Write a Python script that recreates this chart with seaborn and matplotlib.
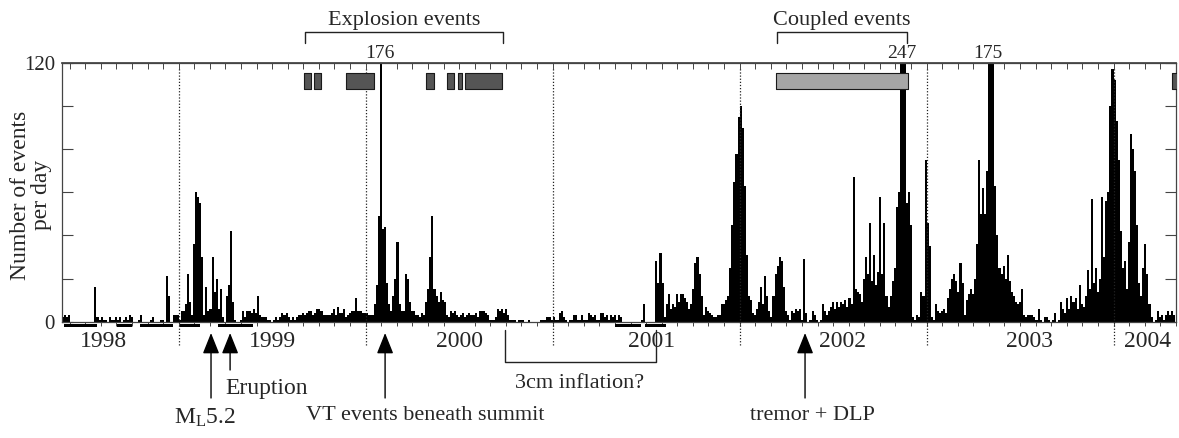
import matplotlib
matplotlib.use("Agg")
import matplotlib.pyplot as plt
import matplotlib.transforms as mtransforms
from matplotlib.ticker import FixedLocator
import pandas as pd
import seaborn as sns

# ---------------- data (events per day, ~4-day bins, 91 bins per year) ----------------
counts_1998 = [2, 3, 2, 3, 0, 0, 0, 0, 0, 0, 0, 0, 0, 0, 0, 0, 16, 2, 1, 2, 1,
               1, 0, 2, 1, 1, 2, 1, 2, 0, 1, 2, 1, 3, 2, 0, 0, 1, 3, 0,
               0, 0, 0, 1, 2, 0, 0, 0, 1, 1, 0, 21, 12, 0, 3, 3, 3]
counts_1999 = [1, 5, 5, 8, 22, 9, 3, 36, 60, 58, 55, 30, 3, 16, 5, 6, 30, 14, 20, 6,
               15, 2, 0, 12, 17, 42, 9, 1, 0, 0, 1, 5, 2, 5,
               5, 4, 6, 4, 12, 3, 2, 2, 2, 1, 1, 0, 1, 2, 1, 2, 4, 3, 4, 2,
               1, 2, 1, 2, 3, 3, 4, 3, 4, 5, 5, 3, 4, 6, 6, 5, 3, 3, 3, 3,
               4, 6, 3, 7, 4, 4, 6, 2, 3, 4, 5, 5, 11, 5, 5, 4, 4]
counts_2000 = [4, 3, 3, 3, 8, 17, 49, 176, 43, 44, 18, 8, 5, 12, 20, 37, 8, 5, 5, 22,
               20, 9, 5, 5, 3, 3, 2, 4, 3, 9, 15, 30, 49, 15,
               12, 9, 14, 10, 9, 3, 2, 5, 4, 5, 3, 2, 3, 4, 2, 3, 4, 3, 3, 4,
               2, 5, 5, 5, 4, 3, 1, 1, 1, 2, 6, 5, 6, 4, 6, 3, 1, 1, 1, 0,
               1, 1, 1, 0, 0, 1, 0, 0, 0, 0, 0, 1, 1, 1, 2, 2, 1]
counts_2001 = [2, 1, 1, 4, 5, 2, 1, 0, 1, 1, 3, 3, 1, 1, 3, 1, 1, 4, 3, 2,
               3, 1, 1, 4, 4, 2, 3, 1, 3, 2, 3, 1, 3, 2,
               0, 0, 0, 0, 0, 0, 0, 0, 0, 1, 8, 0, 0, 0, 0, 0, 28, 18, 32, 18,
               2, 8, 13, 6, 8, 7, 13, 9, 13, 13, 11, 9, 6, 8, 15, 27, 30, 22, 12, 3,
               7, 5, 4, 3, 2, 2, 3, 3, 8, 8, 10, 12, 25, 45, 65, 78, 95]
counts_2002 = [100, 90, 63, 31, 12, 10, 4, 3, 6, 9, 16, 8, 21, 12, 5, 2, 12, 22, 26, 30,
               28, 16, 5, 3, 1, 5, 4, 6, 5, 6, 1, 29, 4,
               0, 1, 5, 3, 1, 0, 1, 8, 5, 3, 5, 7, 9, 6, 9, 7, 9, 8, 10, 7,
               11, 8, 67, 15, 14, 13, 9, 20, 30, 22, 46, 19, 31, 17, 23, 58, 22, 46, 12, 7,
               12, 19, 25, 53, 60, 140, 247, 150, 55, 60, 45, 2, 1, 3, 2, 14, 12, 75]
counts_2003 = [46, 35, 2, 1, 8, 5, 4, 5, 6, 4, 11, 15, 20, 22, 19, 14, 27, 18, 3, 10,
               13, 15, 13, 20, 36, 75, 50, 62, 50, 70, 175, 140, 125,
               63, 40, 25, 22, 26, 20, 31, 19, 14, 12, 9, 8, 9, 15, 3, 2, 3, 3,
               3, 2, 1, 6, 1, 0, 2, 2, 1, 0, 1, 4, 0, 1, 9, 6, 4, 11, 6, 12,
               9, 11, 6, 17, 8, 7, 12, 24, 15, 57, 18, 25, 14, 20, 58, 30, 56, 60, 100, 117]
counts_2004 = [112, 93, 75, 42, 25, 28, 15, 37, 87, 80, 70, 45, 18, 12, 25, 36, 22, 8, 2, 0,
               1, 5, 2, 3, 1, 3, 5, 3, 5, 3]

labelled_peaks = [176, 247, 175]

year_labels = ["1998", "1999", "2000", "2001", "2002", "2003", "2004"]
year_label_pos = [1998.60, 1999.5, 2000.5, 2001.53, 2002.55, 2003.55, 2004.18]
year_bounds = [1999, 2000, 2001, 2002, 2003, 2004]

explosion_start = [1999.672, 1999.726, 1999.895, 2000.323, 2000.434, 2000.493, 2000.532]
explosion_end = [1999.708, 1999.761, 2000.045, 2000.367, 2000.474, 2000.516, 2000.728]
coupled_start = [2002.195]
coupled_end = [2002.902]
late_start = [2004.31]
late_end = [2004.40]

gap_start = [1998.387, 1998.671, 1998.794, 1999.007, 1999.211, 2001.334, 2001.494]
gap_end = [1998.564, 1998.751, 1998.970, 1999.114, 1999.398, 2001.473, 2001.606]

explosion_bracket = (1999.676, 2000.734)
coupled_bracket = (2002.200, 2002.895)
inflation_bracket = (2000.745, 2001.553)

ml_date, eruption_date, vt_date, tremor_date = 1999.173, 1999.275, 2000.104, 2002.350

# ---------------- style ----------------
sns.set_theme(style="ticks")
plt.rcParams["font.family"] = ["Liberation Serif", "DejaVu Serif"]
plt.rcParams["mathtext.fontset"] = "custom"
plt.rcParams["mathtext.rm"] = "Liberation Serif"
plt.rcParams["mathtext.it"] = "Liberation Serif:italic"
plt.rcParams["mathtext.bf"] = "Liberation Serif:bold"

W, H = 1179, 438
fig = plt.figure(figsize=(W / 100, H / 100), dpi=100)
ax = fig.add_axes([62 / W, 1 - 321.7 / H, (1176 - 62) / W, (321.7 - 63) / H])


def fy(py):
    return 1 - py / H


def fx(px):
    return px / W


# ---------------- bars ----------------
BPY = 91
xs, ys = [], []
n98 = len(counts_1998)
for i, v in enumerate(counts_1998):
    xs.append(1999 - (n98 - i - 0.5) / BPY)
    ys.append(v)
for yr, arr in [(1999, counts_1999), (2000, counts_2000), (2001, counts_2001),
                (2002, counts_2002), (2003, counts_2003), (2004, counts_2004)]:
    for i, v in enumerate(arr):
        xs.append(yr + (i + 0.5) / BPY)
        ys.append(v)
df = pd.DataFrame({"year": xs, "count": ys})

sns.barplot(data=df, x="year", y="count", native_scale=True, color="black",
            width=1.0, errorbar=None, saturation=1, linewidth=0,
            edgecolor="none", ax=ax, zorder=2)

ax.set_xlim(1998.376, 2004.334)
ax.set_ylim(0, 120)
ax.set_xlabel("")
ax.set_ylabel("")

# y axis
ax.set_yticks(range(0, 121, 20))
ax.set_yticklabels(["0", "", "", "", "", "", "120"])
ax.tick_params(axis="y", which="major", direction="in", length=8, width=0.8,
               left=True, right=True, labelsize=15, pad=5, color="#444")

# x axis
months = [y + m / 12 for y in range(1998, 2005) for m in range(12)
          if 1998.376 <= y + m / 12 <= 2004.334]
ax.set_xticks(year_label_pos)
ax.set_xticklabels(year_labels)
ax.tick_params(axis="x", which="major", length=0, labelsize=17, pad=7)
ax.xaxis.set_minor_locator(FixedLocator(months))
ax.tick_params(axis="x", which="minor", direction="out", length=3, width=0.7,
               bottom=True, top=False, color="#444")
sec = ax.secondary_xaxis("top")
sec.xaxis.set_major_locator(FixedLocator([]))
sec.xaxis.set_minor_locator(FixedLocator(months))
sec.tick_params(which="minor", direction="in", length=4, width=0.7, color="#444")
sec.spines["top"].set_color("#444")

for s in ax.spines.values():
    s.set_color("#444")
    s.set_linewidth(0.9)

# year boundaries
for yb in year_bounds:
    ax.axvline(yb, ymin=-0.09, ymax=0.985, ls=(0, (1, 1.5)), lw=0.9,
               color="#222", clip_on=False, zorder=3)

# activity rectangles
ax.broken_barh([(s, e - s) for s, e in zip(explosion_start, explosion_end)], (108, 7.5),
               facecolors="#555555", edgecolors="#1a1a1a", linewidth=0.8, zorder=4)
ax.broken_barh([(s, e - s) for s, e in zip(coupled_start, coupled_end)], (108, 7.5),
               facecolors="#a6a6a6", edgecolors="#1a1a1a", linewidth=0.8, zorder=4)
ax.broken_barh([(s, e - s) for s, e in zip(late_start, late_end)], (108, 7.5),
               facecolors="#555555", edgecolors="#1a1a1a", linewidth=0.8, zorder=4)

# data gaps below axis
ax.broken_barh([(s, e - s) for s, e in zip(gap_start, gap_end)], (-2.4, 1.5),
               facecolors="black", edgecolors="none", clip_on=False, zorder=5)

bt = mtransforms.blended_transform_factory(ax.transData, fig.transFigure)

# peak labels
for v in labelled_peaks:
    idx = ys.index(v)
    ax.text(xs[idx] - 0.005, fy(62.5), str(v), transform=bt, ha="center",
            va="bottom", fontsize=14)

# brackets above
for (x0, x1), label in [(explosion_bracket, "Explosion events"),
                        (coupled_bracket, "Coupled events")]:
    ax.plot([x0, x0, x1, x1], [fy(43), fy(32), fy(32), fy(43)], transform=bt,
            color="#222", lw=1.0, clip_on=False)
    ax.text((x0 + x1) / 2, fy(25), label, transform=bt, ha="center",
            va="baseline", fontsize=16)

# inflation bracket below
x0, x1 = inflation_bracket
ax.plot([x0, x0, x1, x1], [fy(330), fy(362), fy(362), fy(330)], transform=bt,
        color="#222", lw=1.0, clip_on=False)

# arrows
for d, tail in [(ml_date, 398), (eruption_date, 370), (vt_date, 398), (tremor_date, 398)]:
    ax.annotate("", xy=(d, fy(333)), xycoords=bt, xytext=(d, fy(tail)), textcoords=bt,
                arrowprops=dict(arrowstyle="-|>,head_length=0.8,head_width=0.32",
                                color="black", lw=1.0, shrinkA=0, shrinkB=0,
                                mutation_scale=16),
                annotation_clip=False)

fig.text(fx(225), fy(394), "Eruption", ha="left", va="baseline", fontsize=17)
fig.text(fx(205), fy(424), r"M$_{\mathrm{L}}$5.2", ha="center", va="baseline", fontsize=17)
fig.text(fx(425), fy(420), "VT events beneath summit", ha="center", va="baseline", fontsize=16)
fig.text(fx(580), fy(388), "3cm inflation?", ha="center", va="baseline", fontsize=16)
fig.text(fx(812), fy(420), "tremor + DLP", ha="center", va="baseline", fontsize=16)

fig.text(fx(31), fy(195), "Number of events\nper day", rotation=90, ha="center",
         va="center", fontsize=17, linespacing=1.0, multialignment="center")

fig.savefig("out.png", dpi=100)
